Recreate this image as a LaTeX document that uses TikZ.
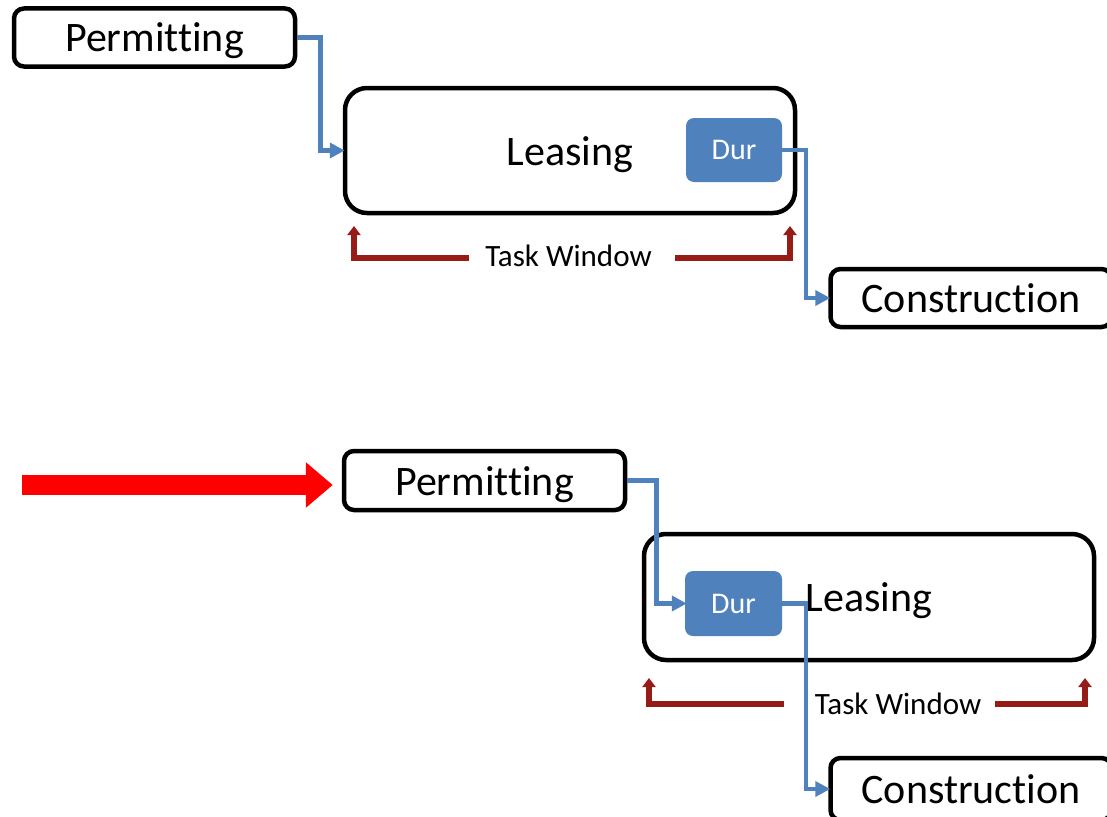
\documentclass[tikz,border=0pt]{standalone}
\usepackage{fontspec}
\setmainfont{Carlito}[Ligatures=NoCommon]
\usetikzlibrary{arrows.meta}
\definecolor{durblue}{RGB}{79,129,189}
\definecolor{windowred}{RGB}{150,28,24}

\begin{document}
\begin{tikzpicture}[x=1pt,y=-1pt]
  \tikzset{task/.style={draw,line width=4.5pt,rounded corners=10pt,minimum width=281pt,minimum height=58pt,inner sep=0pt,text height=37pt,text depth=8pt,font=\fontsize{42}{50}\selectfont}}
  \tikzset{phase/.style={task,rounded corners=22pt,minimum width=450pt,minimum height=125pt}}
  \tikzset{dur/.style={fill=durblue,text=white,rounded corners=8pt,minimum width=96pt,minimum height=64pt,inner sep=0pt,font=\fontsize{30}{36}\selectfont}}
  \tikzset{link/.style={durblue,line width=4.5pt,shorten >=-2pt,-{Triangle[length=15pt,width=15pt]}}}
  \tikzset{window/.style={windowred,line width=6pt,-{Triangle[length=9pt,width=13pt]}}}
  \tikzset{twlabel/.style={inner sep=0pt,font=\fontsize{31}{37}\selectfont}}
  \useasboundingbox (0,0) rectangle (1107,816);
  % before the delay
  \node[task] (permA) at (154.5,37.5) {Permitting};
  \node[phase] (leaseA) at (570,150.5) {Leasing};
  \node[dur] (durA) at (734,150) {Dur};
  \node[task] (consA) at (971,298) {Construction};
  \node[twlabel] (twA) at (568.5,256) {Task Window};
  \coordinate (twlA) at (354,226);
  \coordinate (twrA) at (790,226);
  \draw[link] (permA.east) -- ++(23,0) |- (leaseA.west);
  \draw[link] (durA.east) -- ++(24,0) |- (consA.west);
  \draw[window] ([xshift=-16pt,yshift=-2pt]twA.west) -| (twlA);
  \draw[window] ([xshift=23pt,yshift=-2pt]twA.east) -| (twrA);
  % after the delay
  \coordinate (pushB) at (22,485);
  \node[task,minimum height=59pt] (permB) at (484.5,480.5) {Permitting};
  \node[phase,minimum height=126pt] (leaseB) at (869,597) {Leasing};
  \node[dur,minimum width=97pt,minimum height=65pt] (durB) at (733.5,603.5) {Dur};
  \node[task,minimum height=62pt] (consB) at (971,789) {Construction};
  \node[twlabel] (twB) at (898,704) {Task Window};
  \coordinate (twlB) at (649,678);
  \coordinate (twrB) at (1085,678);
  \draw[red,line width=20pt,shorten >=9pt,-{Triangle[length=27pt,width=44pt]}] (pushB) -- (pushB -| permB.west);
  \draw[link] (permB.east) -- ++(29,0) |- (durB.west);
  \draw[link] (durB.east) -- ++(24,0) |- (consB.west);
  \draw[window] ([xshift=-31pt]twB.west) -| (twlB);
  \draw[window] ([xshift=14pt]twB.east) -| (twrB);
\end{tikzpicture}
\end{document}
